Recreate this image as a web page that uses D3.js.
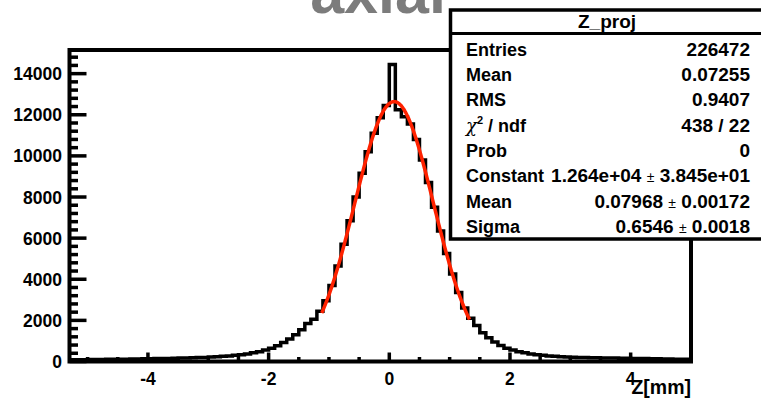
<!DOCTYPE html>
<html>
<head>
<meta charset="utf-8">
<script src="https://cdn.jsdelivr.net/npm/d3@7"></script>
<style>
  body { margin: 0; background: #ffffff; }
  text { font-family: "Liberation Sans", Arial, sans-serif; font-weight: bold; }
</style>
</head>
<body>
<svg id="mysvg" width="761" height="398"></svg>
<script>
// histogram Z_proj, 0.1 wide bins starting at -5.3
var binStart = -5.3;
var binWidth = 0.1;
var counts = [
	80, 85, 90, 95, 100, 100, 105, 110, 110, 115,
	120, 125, 130, 135, 140, 145, 150, 155, 165, 170,
	180, 190, 200, 215, 230, 250, 270, 300, 330, 370,
	420, 480, 560, 650, 770, 920, 1100, 1300, 1550, 1850,
	2050, 2450, 2950, 3700, 4650, 5700, 6850, 8000, 9150, 10200,
	11100, 11850, 12450, 14450, 12250, 11900, 11550, 10800, 9800, 8700,
	7500, 6350, 5250, 4250, 3350, 2600, 2100, 1750, 1400, 1150,
	950, 780, 650, 560, 480, 420, 370, 330, 300, 270,
	250, 235, 220, 210, 200, 190, 185, 180, 175, 170,
	165, 160, 155, 150, 145, 140, 135, 130, 125, 120,
	115, 110, 105
];

var xTicks = [-4, -2, 0, 2, 4];
var yTicks = [0, 2000, 4000, 6000, 8000, 10000, 12000, 14000];

// gaus fit from the stats box
var fitConst = 12640;
var fitMean = 0.07968;
var fitSigma = 0.6546;
var fitRange = [-1.12, 1.33];

var statsTitle = "Z_proj";
var statsRows = [
	["Entries", "226472"],
	["Mean", "0.07255"],
	["RMS", "0.9407"],
	["chi", "438 / 22"],
	["Prob", "0"],
	["Constant", "1.264e+04", "3.845e+01"],
	["Mean", "0.07968", "0.00172"],
	["Sigma", "0.6546", "0.0018"]
];

var svg = d3.select("#mysvg");

var x = d3.scaleLinear().domain([-5.3, 5.0]).range([69.5, 691]);
var y = d3.scaleLinear().domain([0, 15150]).range([361.5, 50]);

// title, mostly off the top of the canvas
svg.append("text")
	.attr("x", 378)
	.attr("y", 12.5)
	.attr("text-anchor", "middle")
	.attr("font-size", 61)
	.attr("fill", "#7c7c7c")
	.text("axial");

// histogram outline
var pts = counts.map(function (c, i) { return [binStart + i * binWidth, c]; });
pts.push([binStart + counts.length * binWidth, counts[counts.length - 1]]);

var stepLine = d3.line()
	.x(function (d) { return x(d[0]); })
	.y(function (d) { return y(d[1]); })
	.curve(d3.curveStepAfter);

svg.append("path")
	.attr("d", stepLine(pts))
	.attr("fill", "none")
	.attr("stroke", "#000000")
	.attr("stroke-width", 3.5);

// fit curve
var fitPts = [];
for (var t = fitRange[0]; t <= fitRange[1] + 1e-9; t += 0.01) {
	var dz = (t - fitMean) / fitSigma;
	fitPts.push([t, fitConst * Math.exp(-0.5 * dz * dz)]);
}
svg.append("path")
	.attr("d", d3.line().x(function (d) { return x(d[0]); }).y(function (d) { return y(d[1]); })(fitPts))
	.attr("fill", "none")
	.attr("stroke", "#ff2200")
	.attr("stroke-width", 3.5);

// frame
svg.append("rect")
	.attr("x", x.range()[0])
	.attr("y", y.range()[1])
	.attr("width", x.range()[1] - x.range()[0])
	.attr("height", y.range()[0] - y.range()[1])
	.attr("fill", "none")
	.attr("stroke", "#000000")
	.attr("stroke-width", 4);

// y ticks
var yMinor = d3.range(0, 15150, 400);
svg.append("g").selectAll("line").data(yMinor).enter().append("line")
	.attr("x1", x.range()[0]).attr("x2", function (d) { return x.range()[0] + (d % 2000 == 0 ? 17 : 8.5); })
	.attr("y1", function (d) { return y(d); }).attr("y2", function (d) { return y(d); })
	.attr("stroke", "#000000")
	.attr("stroke-width", 3.5);

svg.append("g").selectAll("text").data(yTicks).enter().append("text")
	.attr("x", 62)
	.attr("y", function (d) { return y(d) + 6.5; })
	.attr("text-anchor", "end")
	.attr("font-size", 17.5)
	.text(function (d) { return d; });

// x ticks
var xMinor = d3.range(-5, 5.01, 0.5);
svg.append("g").selectAll("line").data(xMinor).enter().append("line")
	.attr("x1", function (d) { return x(d); }).attr("x2", function (d) { return x(d); })
	.attr("y1", y.range()[0])
	.attr("y2", function (d) { return y.range()[0] - (Math.abs(d % 2) < 1e-9 ? 9 : 4.5); })
	.attr("stroke", "#000000")
	.attr("stroke-width", 3.5);

svg.append("g").selectAll("text").data(xTicks).enter().append("text")
	.attr("x", function (d) { return x(d); })
	.attr("y", 385)
	.attr("text-anchor", "middle")
	.attr("font-size", 17.5)
	.text(function (d) { return d; });

svg.append("text")
	.attr("x", 691)
	.attr("y", 394)
	.attr("text-anchor", "end")
	.attr("font-size", 19.5)
	.text("Z[mm]");

// stats box, runs off the right edge
var box = svg.append("g");
box.append("rect")
	.attr("x", 450.5).attr("y", 10)
	.attr("width", 320).attr("height", 229)
	.attr("fill", "#ffffff")
	.attr("stroke", "#000000")
	.attr("stroke-width", 3.5);
box.append("line")
	.attr("x1", 450.5).attr("x2", 770)
	.attr("y1", 33.5).attr("y2", 33.5)
	.attr("stroke", "#000000")
	.attr("stroke-width", 3);
box.append("text")
	.attr("x", 607).attr("y", 28.3)
	.attr("text-anchor", "middle")
	.attr("font-size", 19)
	.text(statsTitle);

statsRows.forEach(function (r, i) {
	var yy = 55.7 + i * 25.3;
	var lab = box.append("text").attr("x", 466).attr("y", yy).attr("font-size", 18);
	if (r[0] == "chi") {
		lab.append("tspan").attr("font-weight", "normal").attr("font-family", "DejaVu Serif").attr("font-style", "italic").text("\u03c7");
		lab.append("tspan").attr("font-size", 11).attr("dy", -8).text("2");
		lab.append("tspan").attr("dy", 8).text(" / ndf");
	} else {
		lab.text(r[0]);
	}
	var val = box.append("text").attr("x", 750).attr("y", yy).attr("text-anchor", "end").attr("font-size", 19);
	if (r.length == 3) {
		val.append("tspan").text(r[1] + " ");
		val.append("tspan").attr("font-size", 14).attr("font-weight", "normal").text("\u00b1");
		val.append("tspan").text(" " + r[2]);
	} else {
		val.text(r[1]);
	}
});
</script>
</body>
</html>
